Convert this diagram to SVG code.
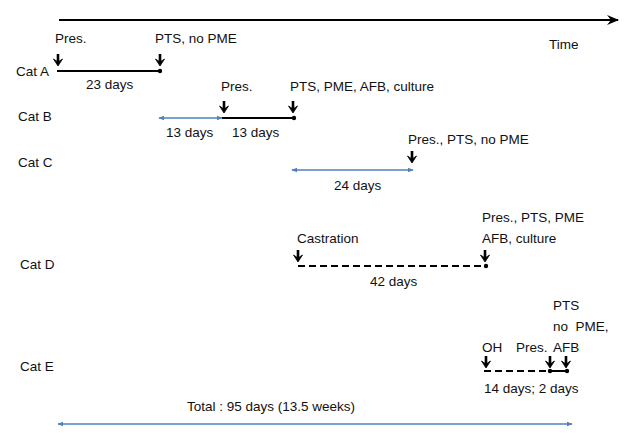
<svg xmlns="http://www.w3.org/2000/svg" width="636" height="443" viewBox="0 0 636 443">
<style>
text{font-family:"Liberation Sans",Arial,sans-serif;font-size:13.5px;fill:#111}
.blk{stroke:#000;stroke-width:2;fill:none}
.dash{stroke:#000;stroke-width:2;fill:none;stroke-dasharray:7,4}
.blue{stroke:#4f81bd;stroke-width:1.6;fill:none}
</style>
<defs>
<g id="darrow">
<path d="M0,0 V9" stroke="#000" stroke-width="2.6"/>
<path d="M-4.5,5 L0,12 L4.5,5 L0,8 Z" fill="#000" stroke="#000" stroke-width="0.8" stroke-linejoin="round"/>
</g>
<marker id="bh" viewBox="0 0 10 10" refX="9" refY="5" markerWidth="6" markerHeight="6" orient="auto-start-reverse" markerUnits="userSpaceOnUse">
<path d="M0,1 L10,5 L0,9 Z" fill="#4f81bd"/>
</marker>
<marker id="th" viewBox="0 0 12 12" refX="11" refY="6" markerWidth="12" markerHeight="12" orient="auto" markerUnits="userSpaceOnUse">
<path d="M0,1 L12,6 L0,11 L4,6 Z" fill="#000"/>
</marker>
</defs>
<g id="connectors">
<line x1="59" y1="20" x2="618" y2="20" stroke="#000" stroke-width="2.2" marker-end="url(#th)"/>
<line class="blk" x1="57" y1="71" x2="160" y2="71"/>
<circle cx="160" cy="71" r="2.2"/>
<line class="blue" x1="159" y1="118" x2="222" y2="118" marker-start="url(#bh)" marker-end="url(#bh)"/>
<line class="blk" x1="222" y1="118" x2="294" y2="118"/>
<circle cx="294" cy="118" r="2.2"/>
<line class="blue" x1="292" y1="170" x2="413" y2="170" marker-start="url(#bh)" marker-end="url(#bh)"/>
<line class="dash" x1="298" y1="266" x2="486" y2="266"/>
<circle cx="486" cy="266" r="2.2"/>
<line class="dash" x1="484" y1="371" x2="550" y2="371"/>
<line class="blk" x1="550" y1="371" x2="567" y2="371"/>
<circle cx="550" cy="371" r="2.2"/>
<circle cx="567" cy="371" r="2.2"/>
<line class="blue" x1="58" y1="424" x2="572" y2="424" marker-start="url(#bh)" marker-end="url(#bh)"/>
</g>
<g id="time"><text x="549" y="49">Time</text></g>
<g id="catA">
<text x="16" y="76">Cat A</text>
<text x="55" y="43">Pres.</text>
<use href="#darrow" x="58" y="54"/>
<text x="155" y="43">PTS, no PME</text>
<use href="#darrow" x="160" y="54"/>
<text x="86" y="89">23 days</text>
</g>
<g id="catB">
<text x="18" y="121">Cat B</text>
<text x="221" y="91">Pres.</text>
<use href="#darrow" x="224" y="101"/>
<text x="290" y="91">PTS, PME, AFB, culture</text>
<use href="#darrow" x="293" y="101"/>
<text x="166" y="137">13 days</text>
<text x="232" y="137">13 days</text>
</g>
<g id="catC">
<text x="18" y="167">Cat C</text>
<text x="408" y="144">Pres., PTS, no PME</text>
<use href="#darrow" x="412" y="151"/>
<text x="334" y="190">24 days</text>
</g>
<g id="catD">
<text x="20" y="269">Cat D</text>
<text x="297" y="243">Castration</text>
<use href="#darrow" x="298" y="250"/>
<text x="482" y="222">Pres., PTS, PME</text>
<text x="482" y="243">AFB, culture</text>
<use href="#darrow" x="485" y="250"/>
<text x="370" y="286">42 days</text>
</g>
<g id="catE">
<text x="20" y="371">Cat E</text>
<text x="553" y="310">PTS</text>
<text x="553" y="331">no&#160; PME,</text>
<text x="553" y="352">AFB</text>
<text x="482" y="352">OH</text>
<text x="516" y="352">Pres.</text>
<use href="#darrow" x="486" y="356"/>
<use href="#darrow" x="550" y="356"/>
<use href="#darrow" x="566" y="356"/>
<text x="484" y="393">14 days; 2 days</text>
</g>
<g id="total">
<text x="271" y="411" text-anchor="middle">Total : 95 days (13.5 weeks)</text>
</g>
</svg>
